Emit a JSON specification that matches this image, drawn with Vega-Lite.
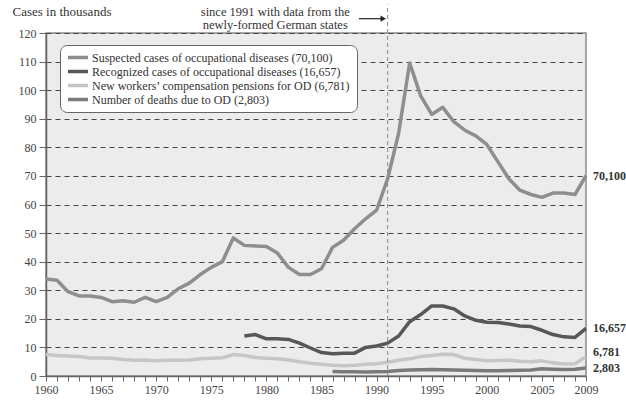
{
  "$schema": "https://vega.github.io/schema/vega-lite/v6.json",
  "width": 540,
  "height": 343,
  "autosize": "none",
  "padding": {"left": 46, "top": 33, "right": 40, "bottom": 26},
  "background": "white",
  "config": {
    "view": {"fill": "#ececec", "stroke": "#8a8a8a", "strokeWidth": 1.5},
    "font": "Liberation Serif",
    "text": {"font": "Liberation Serif"},
    "axis": {"labelFont": "Liberation Serif", "titleFont": "Liberation Serif", "labelFontSize": 12, "labelColor": "#444", "domainColor": "#666", "tickColor": "#666", "domainWidth": 1.5},
    "legend": {"labelFont": "Liberation Serif"}
  },
  "data": {"values": [
    {"year":1960,"S":33.9,"P":7.5},
    {"year":1961,"S":33.5,"P":7.2},
    {"year":1962,"S":29.5,"P":7.0},
    {"year":1963,"S":28.0,"P":6.8},
    {"year":1964,"S":28.0,"P":6.3},
    {"year":1965,"S":27.5,"P":6.3},
    {"year":1966,"S":26.0,"P":6.2},
    {"year":1967,"S":26.3,"P":5.8},
    {"year":1968,"S":25.8,"P":5.5},
    {"year":1969,"S":27.5,"P":5.6},
    {"year":1970,"S":26.0,"P":5.3},
    {"year":1971,"S":27.5,"P":5.5},
    {"year":1972,"S":30.5,"P":5.5},
    {"year":1973,"S":32.5,"P":5.6},
    {"year":1974,"S":35.5,"P":6.0},
    {"year":1975,"S":38.0,"P":6.2},
    {"year":1976,"S":40.0,"P":6.4},
    {"year":1977,"S":48.3,"P":7.5},
    {"year":1978,"S":45.7,"R":14.0,"P":7.2},
    {"year":1979,"S":45.5,"R":14.5,"P":6.5},
    {"year":1980,"S":45.3,"R":13.0,"P":6.2},
    {"year":1981,"S":43.0,"R":13.0,"P":6.0},
    {"year":1982,"S":38.0,"R":12.8,"P":5.6},
    {"year":1983,"S":35.5,"R":11.5,"P":5.0},
    {"year":1984,"S":35.5,"R":9.8,"P":4.5},
    {"year":1985,"S":37.5,"R":8.2,"P":4.1},
    {"year":1986,"S":45.0,"R":7.8,"P":3.8,"D":1.6},
    {"year":1987,"S":47.5,"R":8.0,"P":3.6,"D":1.5},
    {"year":1988,"S":51.5,"R":8.0,"P":3.8,"D":1.5},
    {"year":1989,"S":55.0,"R":10.0,"P":4.1,"D":1.4},
    {"year":1990,"S":58.0,"R":10.5,"P":4.3,"D":1.5},
    {"year":1991,"S":69.0,"R":11.5,"P":4.8,"D":1.6},
    {"year":1992,"S":85.0,"R":14.0,"P":5.5,"D":1.9},
    {"year":1993,"S":109.5,"R":19.0,"P":6.0,"D":2.1},
    {"year":1994,"S":98.0,"R":21.5,"P":6.8,"D":2.2},
    {"year":1995,"S":91.5,"R":24.5,"P":7.2,"D":2.3},
    {"year":1996,"S":94.0,"R":24.5,"P":7.6,"D":2.2},
    {"year":1997,"S":89.0,"R":23.5,"P":7.5,"D":2.1},
    {"year":1998,"S":86.0,"R":21.0,"P":6.2,"D":2.0},
    {"year":1999,"S":84.0,"R":19.5,"P":5.8,"D":1.9},
    {"year":2000,"S":81.0,"R":18.8,"P":5.3,"D":1.8},
    {"year":2001,"S":75.0,"R":18.7,"P":5.4,"D":1.8},
    {"year":2002,"S":69.0,"R":18.2,"P":5.5,"D":1.9},
    {"year":2003,"S":65.0,"R":17.5,"P":5.2,"D":2.0},
    {"year":2004,"S":63.5,"R":17.3,"P":5.0,"D":2.1},
    {"year":2005,"S":62.5,"R":16.0,"P":5.3,"D":2.5},
    {"year":2006,"S":64.0,"R":14.5,"P":4.6,"D":2.4},
    {"year":2007,"S":64.0,"R":13.7,"P":4.2,"D":2.3},
    {"year":2008,"S":63.5,"R":13.5,"P":4.3,"D":2.4},
    {"year":2009,"S":70.1,"R":16.657,"P":6.781,"D":2.803}
  ]},
  "encoding": {
    "x": {"field": "year", "type": "quantitative",
      "scale": {"domain": [1960, 2009], "nice": false, "zero": false},
      "axis": {"title": null, "values": [1960,1961,1962,1963,1964,1965,1966,1967,1968,1969,1970,1971,1972,1973,1974,1975,1976,1977,1978,1979,1980,1981,1982,1983,1984,1985,1986,1987,1988,1989,1990,1991,1992,1993,1994,1995,1996,1997,1998,1999,2000,2001,2002,2003,2004,2005,2006,2007,2008,2009],
        "labelExpr": "(datum.value % 5 == 0 || datum.value == 2009) ? format(datum.value, 'd') : ''",
        "labelFont": "Liberation Serif", "labelOverlap": false, "labelFlush": false, "grid": false, "tickSize": 5, "labelPadding": 3}},
    "y": {"field": "value", "type": "quantitative",
      "scale": {"domain": [0, 120], "nice": false},
      "axis": {"title": "Cases in thousands", "titleAngle": 0, "titleAlign": "left", "titleBaseline": "middle", "titleX": -34, "titleY": -22, "titleFontSize": 13, "titleFontWeight": "normal", "titleColor": "#333",
        "labelFont": "Liberation Serif", "values": [0,10,20,30,40,50,60,70,80,90,100,110,120], "labelOverlap": false, "tickSize": 7, "grid": true, "gridDash": [5,4], "gridColor": "#444", "gridWidth": 1.2, "gridOpacity": 1, "labelPadding": 3}}
  },
  "layer": [
    {
      "transform": [
        {"fold": ["S","R","P","D"], "as": ["series","value"]},
        {"filter": "isValid(datum.value)"}
      ],
      "mark": {"type": "line", "strokeWidth": 3.5, "strokeJoin": "round"},
      "encoding": {
        "color": {"field": "series", "type": "nominal",
          "scale": {"domain": ["S","R","P","D"], "range": ["#8e8e8e", "#575757", "#c6c6c6", "#7a7a7a"]},
          "legend": {"title": null, "orient": "none", "legendX": 14, "legendY": 12,
            "labelExpr": "datum.value == 'S' ? 'Suspected cases of occupational diseases (70,100)' : datum.value == 'R' ? 'Recognized cases of occupational diseases (16,657)' : datum.value == 'P' ? 'New workers\u2019 compensation pensions for OD (6,781)' : 'Number of deaths due to OD (2,803)'",
            "labelFont": "Liberation Serif", "labelFontSize": 12, "labelColor": "#333", "labelLimit": 400,
            "symbolType": "stroke", "symbolStrokeWidth": 3.5, "symbolSize": 400, "clipHeight": 13,
            "fillColor": "white", "strokeColor": "#666", "cornerRadius": 7, "padding": 6, "rowPadding": 1, "labelOffset": 2}}
      }
    },
    {
      "data": {"values": [{"year": 1991, "value": 0, "value2": 130}]},
      "mark": {"type": "rule", "strokeDash": [4,3], "color": "#8a8a8a", "strokeWidth": 1},
      "encoding": {"y2": {"field": "value2"}}
    },
    {
      "data": {"values": [{"year": 1980.8, "value": 127.3, "text": ["since 1991 with data from the", "newly-formed German states"]}]},
      "mark": {"type": "text", "font": "Liberation Serif", "fontSize": 12.5, "color": "#333", "lineHeight": 12.5, "baseline": "middle"},
      "encoding": {"text": {"field": "text"}}
    },
    {
      "data": {"values": [{"year": 1988.4, "year2": 1990.5, "value": 125.0}]},
      "mark": {"type": "rule", "color": "#222", "strokeWidth": 1.2},
      "encoding": {"x2": {"field": "year2"}}
    },
    {
      "data": {"values": [{"year": 1990.6, "value": 125.0}]},
      "mark": {"type": "point", "shape": "triangle-right", "filled": true, "color": "#222", "size": 40, "opacity": 1}
    },
    {
      "data": {"values": [
        {"year": 2009, "value": 69.8, "label": "70,100"},
        {"year": 2009, "value": 16.9, "label": "16,657"},
        {"year": 2009, "value": 8.4, "label": "6,781"},
        {"year": 2009, "value": 2.7, "label": "2,803"}
      ]},
      "mark": {"type": "text", "align": "left", "dx": 7, "font": "Liberation Serif", "fontSize": 12, "fontWeight": "bold", "color": "#333", "baseline": "middle"},
      "encoding": {"text": {"field": "label"}}
    }
  ]
}
